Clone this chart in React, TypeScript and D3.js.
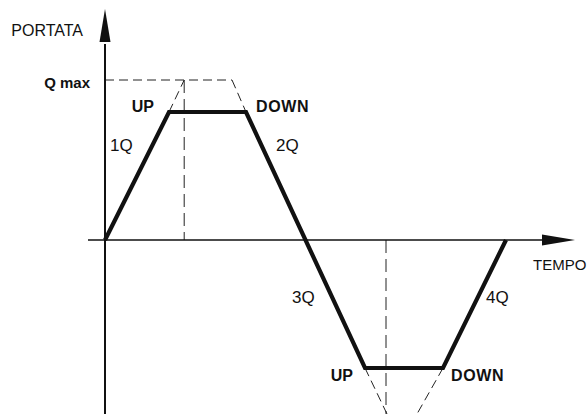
import React, { useEffect, useRef } from 'react';
import * as d3 from 'd3';

// flow profile (time in ramp units, flow as fraction of Q max)
const timePoints = [0, 0.8, 1.7625, 3.25, 4.225, 5.0125];
const flowPoints = [0, 0.8, 0.8, -0.8, -0.8, 0];

const qMax = 1;
const qMaxEnd = 1.5875;
const upperPeakT = 0.99;
const lowerPeakT = 3.5125;
const lowerLeftT = 3.525;
const lowerRightT = 3.9;

const quadrantLabels = ['1Q', '2Q', '3Q', '4Q'];
const rampLabels = ['UP', 'DOWN', 'UP', 'DOWN'];

const App = () => {
  const chartRef = useRef<SVGSVGElement>(null);

  useEffect(() => {
    const width = 588;
    const height = 414;

    const svg = d3.select(chartRef.current)
      .attr('width', width)
      .attr('height', height);
    svg.selectAll('*').remove();

    const x = d3.scaleLinear().domain([0, 1]).range([105, 185]);
    const y = d3.scaleLinear().domain([0, 1]).range([240, 80]);
    const qBottom = y.invert(height);

    const g = svg.append('g')
      .attr('font-family', '"Liberation Sans", Arial, sans-serif')
      .attr('fill', '#111');

    // dashed construction lines
    const dashed = [
      { pts: [[0, qMax], [qMaxEnd, qMax]], dash: '9,5' },
      { pts: [[timePoints[1], flowPoints[1]], [upperPeakT, qMax]], dash: '9,5' },
      { pts: [[qMaxEnd, qMax], [timePoints[2], flowPoints[2]]], dash: '9,5' },
      { pts: [[upperPeakT, qMax], [upperPeakT, 0]], dash: '13,6' },
      { pts: [[lowerPeakT, 0], [lowerPeakT, qBottom]], dash: '13,6' },
      { pts: [[timePoints[3], flowPoints[3]], [lowerLeftT, qBottom]], dash: '9,5' },
      { pts: [[timePoints[4], flowPoints[4]], [lowerRightT, qBottom]], dash: '9,5' },
    ];
    const seg = d3.line<number[]>().x(d => x(d[0])).y(d => y(d[1]));
    g.selectAll('path.dash')
      .data(dashed)
      .enter()
      .append('path')
      .attr('class', 'dash')
      .attr('d', d => seg(d.pts))
      .attr('fill', 'none')
      .attr('stroke', '#222')
      .attr('stroke-width', 1)
      .attr('stroke-dasharray', d => d.dash);

    // axes
    const yTipQ = y.invert(9);
    const yBaseQ = y.invert(42);
    g.append('line')
      .attr('x1', x(0)).attr('x2', x(0))
      .attr('y1', y(qBottom)).attr('y2', y(yBaseQ) + 2)
      .attr('stroke', '#111').attr('stroke-width', 2);
    g.append('path')
      .attr('d', `M${x(0)},${y(yTipQ)}L${x(0) - 5.5},${y(yBaseQ)}L${x(0) + 5.5},${y(yBaseQ)}Z`)
      .attr('fill', '#111');

    const xStartT = x.invert(88);
    const xTipT = x.invert(575);
    const xBaseT = x.invert(542);
    g.append('line')
      .attr('x1', x(xStartT)).attr('x2', x(xBaseT) + 2)
      .attr('y1', y(0)).attr('y2', y(0))
      .attr('stroke', '#111').attr('stroke-width', 1.6);
    g.append('path')
      .attr('d', `M${x(xTipT)},${y(0)}L${x(xBaseT)},${y(0) - 5.5}L${x(xBaseT)},${y(0) + 5.5}Z`)
      .attr('fill', '#111');

    // flow profile
    const line = d3.line<number>()
      .x((d, i) => x(timePoints[i]))
      .y(d => y(d));
    g.append('path')
      .datum(flowPoints)
      .attr('d', line)
      .attr('fill', 'none')
      .attr('stroke', '#111')
      .attr('stroke-width', 4.2)
      .attr('stroke-linejoin', 'miter');

    // axis titles
    g.append('text')
      .attr('x', x(0) - 22).attr('y', 36)
      .attr('text-anchor', 'end')
      .attr('font-size', 16)
      .text('PORTATA');
    g.append('text')
      .attr('x', 533).attr('y', y(0) + 30)
      .attr('font-size', 15)
      .text('TEMPO');
    g.append('text')
      .attr('x', x(0) - 15).attr('y', y(qMax) + 8)
      .attr('text-anchor', 'end')
      .attr('font-size', 15)
      .attr('font-weight', 'bold')
      .text('Q max');

    // ramp labels
    const rampPos = [
      { x: x(timePoints[1]) - 15, y: y(flowPoints[1]), anchor: 'end' },
      { x: x(timePoints[2]) + 10, y: y(flowPoints[2]), anchor: 'start' },
      { x: x(timePoints[3]) - 12, y: y(flowPoints[3]) + 13, anchor: 'end' },
      { x: x(timePoints[4]) + 8, y: y(flowPoints[4]) + 13, anchor: 'start' },
    ];
    g.selectAll('text.ramp')
      .data(rampLabels)
      .enter()
      .append('text')
      .attr('class', 'ramp')
      .attr('x', (d, i) => rampPos[i].x)
      .attr('y', (d, i) => rampPos[i].y)
      .attr('text-anchor', (d, i) => rampPos[i].anchor)
      .attr('font-size', 16)
      .attr('font-weight', 'bold')
      .attr('letter-spacing', (d) => (d === 'DOWN' ? 0.6 : 0))
      .text(d => d);

    // quadrant labels
    const quadPos = [
      { x: 110, y: 151 },
      { x: 276, y: 151 },
      { x: 292, y: 303 },
      { x: 486, y: 303 },
    ];
    g.selectAll('text.quad')
      .data(quadrantLabels)
      .enter()
      .append('text')
      .attr('class', 'quad')
      .attr('x', (d, i) => quadPos[i].x)
      .attr('y', (d, i) => quadPos[i].y)
      .attr('font-size', 17)
      .text(d => d);
  }, []);

  return (
    <svg ref={chartRef} style={{ position: 'absolute', left: 0, top: 0, background: '#fff' }}></svg>
  );
};

export default App;
